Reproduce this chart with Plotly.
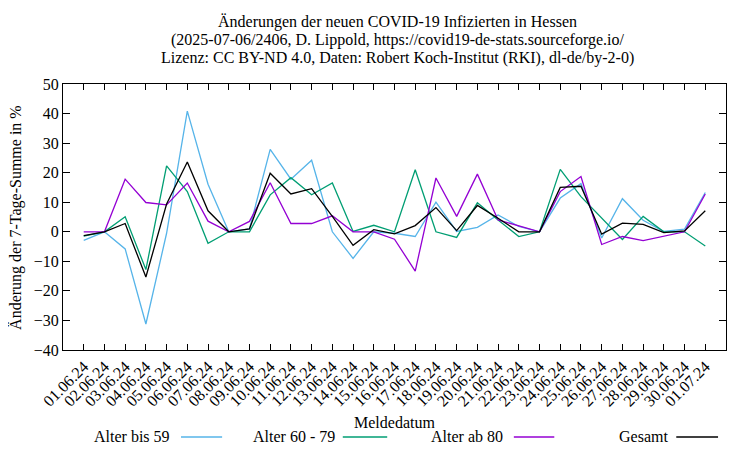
"""Änderungen der neuen COVID-19 Infizierten in Hessen, gnuplot-style line chart."""

import plotly.graph_objects as go

DATES = [
    "01.06.24", "02.06.24", "03.06.24", "04.06.24", "05.06.24", "06.06.24",
    "07.06.24", "08.06.24", "09.06.24", "10.06.24", "11.06.24", "12.06.24",
    "13.06.24", "14.06.24", "15.06.24", "16.06.24", "17.06.24", "18.06.24",
    "19.06.24", "20.06.24", "21.06.24", "22.06.24", "23.06.24", "24.06.24",
    "25.06.24", "26.06.24", "27.06.24", "28.06.24", "29.06.24", "30.06.24",
    "01.07.24",
]

BIS_59 = [
    -2.9, 0.0, -5.8, -31.2, -0.5, 40.8, 16.1, 0.0, 1.0, 27.9, 17.8,
    24.2, 0.0, -9.0, 0.0, -0.5, -1.6, 10.0, 0.1, 1.5, 5.7,
    1.8, 0.0, 11.4, 16.3, -2.1, 11.2, 3.9, 0.1, 0.9, 13.3,
]
BIS_79 = [
    -1.5, 0.0, 5.1, -12.8, 22.3, 13.6, -3.9, 0.0, 0.0, 12.5, 18.3,
    12.5, 16.5, 0.1, 2.2, 0.0, 21.0, 0.0, -1.9, 9.8, 4.0,
    -1.6, 0.0, 21.1, 11.9, 4.6, -2.6, 5.2, 0.0, 0.0, -4.8,
]
AB_80 = [
    0.0, 0.0, 17.8, 9.9, 9.1, 16.5, 3.6, 0.0, 3.5, 16.6, 2.8,
    2.8, 5.4, 0.0, 0.0, -2.5, -13.3, 18.2, 5.2, 19.5, 4.0,
    1.9, 0.0, 13.6, 18.7, -4.3, -1.6, -3.0, -1.5, 0.0, 12.8,
]
GESAMT = [
    -1.3, 0.0, 2.8, -15.3, 9.4, 23.6, 7.1, 0.0, 1.0, 19.8, 12.8,
    14.6, 5.2, -4.6, 0.7, -0.7, 2.1, 8.2, 0.4, 8.9, 4.6,
    0.0, 0.0, 15.0, 15.4, -0.8, 2.9, 2.5, -0.3, 0.3, 7.1,
]

SERIES = [
    ("Alter bis 59", BIS_59, "#56b4e9"),
    ("Alter 60 - 79", BIS_79, "#009e73"),
    ("Alter ab 80", AB_80, "#9400d3"),
    ("Gesamt", GESAMT, "#000000"),
]

TITLE_LINES = [
    "Änderungen der neuen COVID-19 Infizierten in Hessen",
    "(2025-07-06/2406, D. Lippold, https://covid19-de-stats.sourceforge.io/",
    "Lizenz: CC BY-ND 4.0, Daten: Robert Koch-Institut (RKI), dl-de/by-2-0)",
]

# legend placement (paper coords): text right edge, line start, line end
LEGEND_POS = [(0.164, 0.178, 0.240), (0.413, 0.422, 0.489), (0.667, 0.680, 0.741), (0.916, 0.925, 0.988)]
LEGEND_Y = -0.327
TITLE_Y = [1.233, 1.165, 1.098]

FONT = "Liberation Serif"
FS = 16

fig = go.Figure()

for name, values, color in SERIES:
    fig.add_trace(
        go.Scatter(
            x=DATES,
            y=values,
            mode="lines",
            name=name,
            line={"color": color, "width": 1.3},
            showlegend=False,
        )
    )

# gnuplot-like legend: label followed by a line sample
for (name, _values, color), (tx, x0, x1) in zip(SERIES, LEGEND_POS):
    fig.add_annotation(
        x=tx, y=LEGEND_Y, xref="paper", yref="paper",
        text=name, showarrow=False, xanchor="right", yanchor="middle",
        font={"family": FONT, "size": FS, "color": "black"},
    )
    fig.add_shape(
        type="line", xref="paper", yref="paper",
        x0=x0, x1=x1, y0=LEGEND_Y, y1=LEGEND_Y,
        line={"color": color, "width": 1.3},
    )

for line, ty in zip(TITLE_LINES, TITLE_Y):
    fig.add_annotation(
        x=0.505, y=ty, xref="paper", yref="paper",
        text=line, showarrow=False, xanchor="center", yanchor="middle",
        font={"family": FONT, "size": FS, "color": "black"},
    )

# axis titles
fig.add_annotation(
    x=0.5, y=-0.274, xref="paper", yref="paper",
    text="Meldedatum", showarrow=False, xanchor="center", yanchor="middle",
    font={"family": FONT, "size": FS, "color": "black"},
)
fig.add_annotation(
    x=-0.071, y=0.5, xref="paper", yref="paper",
    text="Änderung der 7-Tage-Summe in %", showarrow=False, textangle=-90,
    xanchor="center", yanchor="middle",
    font={"family": FONT, "size": FS, "color": "black"},
)

# the page body adds an 8px offset, so the figure is 8px smaller each way
fig.update_layout(
    width=742,
    height=442,
    paper_bgcolor="white",
    plot_bgcolor="white",
    margin={"l": 55, "r": 24, "t": 76, "b": 100},
    font={"family": FONT, "size": FS, "color": "black"},
)

fig.update_xaxes(
    type="category",
    range=[-1, 31],
    tickangle=-45,
    ticks="inside",
    ticklen=6,
    tickcolor="black",
    showline=True,
    linecolor="black",
    linewidth=1,
    mirror="ticks",
    showgrid=False,
    zeroline=False,
    automargin=False,
    tickfont={"family": FONT, "size": FS},
)

fig.update_yaxes(
    range=[-40, 50],
    dtick=10,
    ticks="inside",
    ticklen=7,
    tickcolor="black",
    showline=True,
    linecolor="black",
    linewidth=1,
    mirror="ticks",
    showgrid=False,
    zeroline=False,
    automargin=False,
    tickfont={"family": FONT, "size": FS},
)

fig.write_html("out.html")
